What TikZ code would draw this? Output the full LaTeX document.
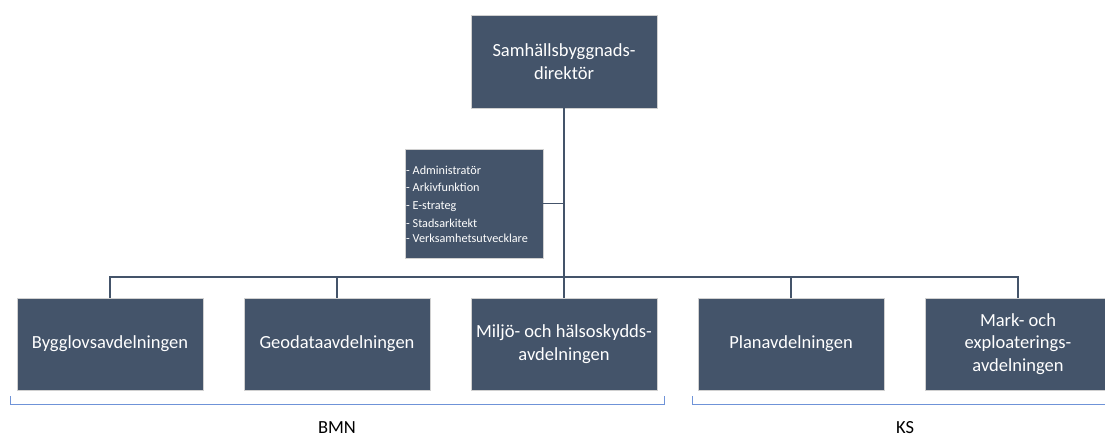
\documentclass[tikz,border=0pt]{standalone}
\usepackage{fontspec}
\setmainfont{Carlito}
\definecolor{boxfill}{HTML}{44546A}
\definecolor{boxline}{HTML}{D0D0D0}
\definecolor{conn}{HTML}{44546A}
\definecolor{brk}{HTML}{6F93D8}
\begin{document}
\begin{tikzpicture}[x=1pt,y=-1pt,
  orgbox/.style={draw=boxline,line width=0.8pt,fill=boxfill,text=white,minimum width=186pt,minimum height=92pt,inner sep=0pt,align=center,font=\fontsize{18.5}{22.5}\selectfont},
  conline/.style={draw=conn,line width=1.3pt},
  bracket/.style={draw=brk,line width=0.9pt},
  lbl/.style={font=\fontsize{18.5}{22}\selectfont,anchor=base}]
\useasboundingbox (0,0) rectangle (1105,436);
\clip (0,0) rectangle (1105,436);
% top
\node[orgbox,minimum height=93pt] (dir) at (564,61.5) {Samhällsbyggnads-\\direktör};
% staff box
\node[draw=boxline,line width=0.8pt,fill=boxfill,minimum width=138pt,minimum height=109pt,inner sep=0pt] (staff) at (474,203.5) {};
\begin{scope}[every node/.style={text=white,anchor=base west,inner sep=0pt,font=\fontsize{12.2}{14}\selectfont}]
\node (s1) at (406,174) {- Administratör};
\node (s2) at (406,191.5) {- Arkivfunktion};
\node (s3) at (406,209.5) {- E-strateg};
\node (s4) at (406,227.5) {- Stadsarkitekt};
\node (s5) at (406,242.5) {- Verksamhetsutvecklare};
\end{scope}
% bottom boxes
\node[orgbox] (b1) at (110,344) {Bygglovsavdelningen};
\node[orgbox] (b2) at (337,344) {Geodataavdelningen};
\node[orgbox] (b3) at (564,344) {Miljö- och hälsoskydds-\\avdelningen};
\node[orgbox] (b4) at (791,344) {Planavdelningen};
\node[orgbox] (b5) at (1018,344) {Mark- och\\exploaterings-\\avdelningen};
% connectors
\coordinate (bus) at (564,277);
\draw[conline] (dir.south) -- (bus);
\draw[conline] (staff.east) -- (staff.east -| dir.south);
\draw[conline] (b1.north) |- (bus) -| (b5.north);
\draw[conline] (b2.north) -- (b2.north |- bus);
\draw[conline] (b3.north) -- (bus);
\draw[conline] (b4.north) -- (b4.north |- bus);
% brackets
\coordinate (l1) at (10,396);
\coordinate (l2) at (664,396);
\coordinate (r1) at (692,396);
\coordinate (r2) at (1110,404);
\draw[bracket] (l1) -- ++(0,8) -- ++(654,0) -- (l2);
\draw[bracket] (r1) -- ++(0,8) -- (r2);
\node[lbl] (bmn) at (337,433) {BMN};
\node[lbl] (ks) at (905,433) {KS};
\end{tikzpicture}
\end{document}
